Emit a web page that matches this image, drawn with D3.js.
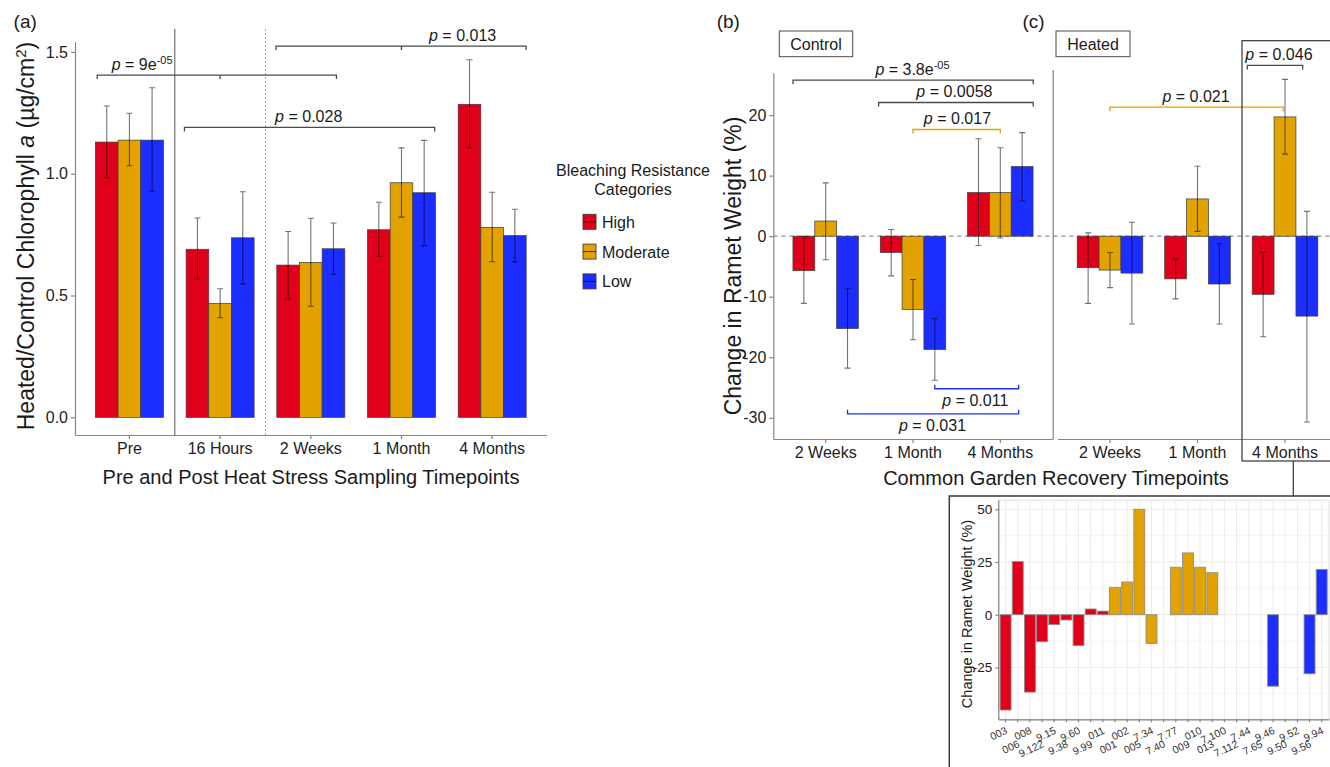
<!DOCTYPE html>
<html>
  <head>
    <meta charset="utf-8">
    <title>Chlorophyll a and ramet weight by bleaching resistance</title>
    <script src="https://cdn.jsdelivr.net/npm/d3@7"></script>
    <style>
      body { margin: 0; background: #fff; }
      svg { display: block; font-family: "Liberation Sans", Arial, sans-serif; }
      .axis path, .axis line { stroke: #858585; stroke-width: 1.2; }
      .axis text { fill: #222; font-size: 16px; font-family: "Liberation Sans", Arial, sans-serif; }
      .inset .axis text { font-size: 13.5px; }
    </style>
  </head>
  <body>
    <svg id="chart" width="1330" height="767"></svg>
    <script>
      // categories
      const levels = ["High", "Moderate", "Low"];
      const timeA = ["Pre", "16 Hours", "2 Weeks", "1 Month", "4 Months"];
      const timeB = ["2 Weeks", "1 Month", "4 Months"];

      // (a) heated/control chlorophyll a, mean and error bar ends
      const chlHigh = [1.13, 0.69, 0.625, 0.77, 1.285];
      const chlHighErr = [[0.984, 1.278], [0.568, 0.818], [0.486, 0.763], [0.661, 0.883], [1.106, 1.468]];
      const chlModerate = [1.138, 0.468, 0.636, 0.963, 0.78];
      const chlModerateErr = [[1.033, 1.248], [0.409, 0.528], [0.456, 0.817], [0.822, 1.106], [0.639, 0.924]];
      const chlLow = [1.138, 0.737, 0.692, 0.922, 0.746];
      const chlLowErr = [[0.928, 1.353], [0.548, 0.926], [0.587, 0.798], [0.705, 1.137], [0.638, 0.854]];

      // (b) control ramets, change in weight (%)
      const ctrlHigh = [-5.7, -2.7, 7.2];
      const ctrlHighErr = [[-11.1, -0.1], [-6.55, 1.1], [-1.55, 16.1]];
      const ctrlModerate = [2.5, -12.1, 7.2];
      const ctrlModerateErr = [[-3.9, 8.8], [-17.1, -7.15], [-0.3, 14.6]];
      const ctrlLow = [-15.25, -18.7, 11.5];
      const ctrlLowErr = [[-21.8, -8.6], [-23.8, -13.6], [5.8, 17.1]];

      // (c) heated ramets, change in weight (%)
      const heatHigh = [-5.2, -7.05, -9.6];
      const heatHighErr = [[-11.1, 0.55], [-10.35, -3.75], [-16.6, -2.65]];
      const heatModerate = [-5.6, 6.15, 19.7];
      const heatModerateErr = [[-8.5, -2.7], [0.8, 11.55], [13.55, 25.9]];
      const heatLow = [-6.1, -7.9, -13.2];
      const heatLowErr = [[-14.5, 2.3], [-14.5, -1.25], [-30.7, 4.1]];

      // inset: heated ramets at 4 months, per genotype
      const genotypes = ["003", "006", "008", "9.122", "9.15", "9.38", "9.60", "9.99", "011",
        "001", "002", "005", "7.34", "7.40", "7.77", "009", "010", "013", "7.100", "7.112", "7.44", "7.65",
        "9.46", "9.50", "9.52", "9.56", "9.94"];
      const genoChange = [-45.2, 25.2, -36.7, -12.8, -4.7, -2.5, -14.6, 2.7, 1.7,
        13.0, 15.5, 50.0, -13.6, null, 22.5, 29.3, 22.5, 19.9, null, null, null, null,
        -33.9, null, null, -28.0, 21.5];
      const genoLevel = genotypes.map(function(d, i) { return i < 9 ? "High" : i < 22 ? "Moderate" : "Low"; });

      // significance brackets, positions in category units and y units
      const sigA = [
        { from: -0.355, to: 2.283, mid: 1, y: 1.405, tx: 0.14, p: "9e", exp: "-05" },
        { from: 1.617, to: 4.374, mid: 3, y: 1.524, tx: 3.674, p: "0.013" },
        { from: 0.607, to: 3.366, y: 1.19, tx: 1.977, p: "0.028" }
      ];
      const sigB = [
        { from: -0.374, to: 2.377, y: 25.76, tx: 0.994, p: "3.8e", exp: "-05" },
        { from: 0.606, to: 2.377, y: 22.08, tx: 1.474, p: "0.0058" },
        { from: 1, to: 2, y: 17.62, tx: 1.509, p: "0.017", level: "Moderate" },
        { from: 1.25, to: 2.21, y: -25.2, tx: 1.714, p: "0.011", level: "Low", below: true },
        { from: 0.25, to: 2.21, y: -29.35, tx: 1.223, p: "0.031", level: "Low", below: true }
      ];
      const sigC = [
        { from: 0, to: 1.98, y: 21.3, tx: 0.983, p: "0.021", level: "Moderate" },
        { from: 1.569, to: 2.202, y: 28.2, tx: 1.931, p: "0.046" }
      ];

      const colour = { High: "#E1001B", Moderate: "#E2A300", Low: "#1C2DFF" };
      const ink = "#1a1a1a";

      const svg = d3.select("#chart");

      // position from fractional category index
      function pos(x, v) {
        return x(x.domain()[0]) + x.step() * (v + 0.5);
      }

      function groupedBars(g, x, y, series, errs) {
        const w = x.step() * 0.25;
        levels.forEach(function(lev, i) {
          g.selectAll(null)
            .data(x.domain())
            .join("rect")
              .attr("x", function(c) { return pos(x, x.domain().indexOf(c)) + (i - 1.5) * w; })
              .attr("y", function(c, j) { return y(Math.max(0, series[i][j])); })
              .attr("width", w)
              .attr("height", function(c, j) { return Math.abs(y(series[i][j]) - y(0)); })
              .attr("fill", colour[lev])
              .attr("stroke", "#3c3c3c")
              .attr("stroke-width", 0.7);
        });
        levels.forEach(function(lev, i) {
          g.selectAll(null)
            .data(errs[i])
            .join("path")
              .attr("d", function(e, j) {
                const cx = pos(x, j) + (i - 1) * w;
                return "M" + (cx - 3) + "," + y(e[1]) + "H" + (cx + 3) +
                  "M" + cx + "," + y(e[1]) + "V" + y(e[0]) +
                  "M" + (cx - 3) + "," + y(e[0]) + "H" + (cx + 3);
              })
              .attr("fill", "none")
              .attr("stroke", "rgba(0,0,0,0.55)")
              .attr("stroke-width", 1.1);
        });
      }

      function brackets(g, x, y, list) {
        list.forEach(function(b) {
          const x1 = pos(x, b.from), x2 = pos(x, b.to), yy = y(b.y);
          const t = b.below ? -4 : 4;
          const col = b.level ? colour[b.level] : "#4a4a4a";
          let d = "M" + x1 + "," + (yy + t) + "V" + yy + "H" + x2 + "V" + (yy + t);
          if (b.mid != null) d += "M" + pos(x, b.mid) + "," + yy + "v" + t;
          g.append("path")
            .attr("d", d)
            .attr("fill", "none")
            .attr("stroke", col)
            .attr("stroke-width", 1.3);
          const label = g.append("text")
            .attr("x", pos(x, b.tx))
            .attr("y", b.below ? yy + 17 : yy - 5)
            .attr("text-anchor", "middle")
            .attr("font-size", 16)
            .attr("fill", ink);
          label.append("tspan").attr("font-style", "italic").text("p");
          label.append("tspan").text(" = " + b.p);
          if (b.exp) label.append("tspan").attr("dy", -6).attr("font-size", 11).text(b.exp);
        });
      }

      function xAxis(g, x, yPos) {
        g.attr("class", "axis")
          .attr("transform", "translate(0," + yPos + ")")
          .call(d3.axisBottom(x).tickSizeInner(4).tickSizeOuter(0).tickPadding(4));
      }

      // ---------- panel (a) ----------
      const xa = d3.scaleBand().domain(timeA).range([75, 546.6]).paddingOuter(0.1);
      const ya = d3.scaleLinear().domain([-0.0725, 1.542]).range([435, 41.7]);
      const ga = svg.append("g");

      ga.append("g").attr("class", "axis")
        .attr("transform", "translate(75,0)")
        .call(d3.axisLeft(ya).tickValues([0, 0.5, 1, 1.5]).tickFormat(d3.format(".1f"))
          .tickSizeInner(4).tickSizeOuter(0).tickPadding(3));
      xAxis(ga.append("g"), xa, 435);

      // separators between pre, 16 hours and recovery
      ga.append("line")
        .attr("x1", pos(xa, 0.5)).attr("x2", pos(xa, 0.5))
        .attr("y1", 29).attr("y2", 435)
        .attr("stroke", "#707070").attr("stroke-width", 1.2);
      ga.append("line")
        .attr("x1", pos(xa, 1.5)).attr("x2", pos(xa, 1.5))
        .attr("y1", 29).attr("y2", 435)
        .attr("stroke", "#8a8a8a").attr("stroke-width", 0.8)
        .attr("stroke-dasharray", "2,2");

      groupedBars(ga, xa, ya, [chlHigh, chlModerate, chlLow], [chlHighErr, chlModerateErr, chlLowErr]);
      brackets(ga, xa, ya, sigA);

      const yTitleA = ga.append("text")
        .attr("transform", "translate(33.5,236) rotate(-90)")
        .attr("text-anchor", "middle")
        .attr("font-size", 23)
        .attr("fill", ink);
      yTitleA.append("tspan").text("Heated/Control Chlorophyll ");
      yTitleA.append("tspan").attr("font-style", "italic").text("a");
      yTitleA.append("tspan").text(" (µg/cm");
      yTitleA.append("tspan").attr("dy", -8).attr("font-size", 15).text("2");
      yTitleA.append("tspan").attr("dy", 8).text(")");

      ga.append("text")
        .attr("x", 311).attr("y", 484)
        .attr("text-anchor", "middle")
        .attr("font-size", 20)
        .attr("fill", ink)
        .text("Pre and Post Heat Stress Sampling Timepoints");

      // legend
      const legend = svg.append("g");
      legend.selectAll(null)
        .data(["Bleaching Resistance", "Categories"])
        .join("text")
          .attr("x", 633)
          .attr("y", function(d, i) { return 176 + i * 18.5; })
          .attr("text-anchor", "middle")
          .attr("font-size", 16)
          .attr("fill", ink)
          .text(function(d) { return d; });
      const keys = legend.selectAll(null)
        .data(levels)
        .join("g")
          .attr("transform", function(d, i) { return "translate(583," + (214.3 + i * 29.8) + ")"; });
      keys.append("rect")
        .attr("width", 13).attr("height", 15)
        .attr("fill", function(d) { return colour[d]; })
        .attr("stroke", "#3c3c3c").attr("stroke-width", 0.9);
      keys.append("line")
        .attr("x1", 0).attr("x2", 13).attr("y1", 7.5).attr("y2", 7.5)
        .attr("stroke", "rgba(0,0,0,0.7)").attr("stroke-width", 1);
      keys.append("text")
        .attr("x", 19).attr("y", 13.4)
        .attr("font-size", 16)
        .attr("fill", ink)
        .text(function(d) { return d; });

      // ---------- panels (b) and (c) ----------
      const yb = d3.scaleLinear().domain([-33.5, 27]).range([439, 72.7]);
      const xb = d3.scaleBand().domain(timeB).range([773.3, 1052.7]).paddingOuter(0.1);
      const xc = d3.scaleBand().domain(timeB).range([1057.5, 1337.5]).paddingOuter(0.1);
      const gb = svg.append("g");

      gb.append("g").attr("class", "axis")
        .attr("transform", "translate(773.3,0)")
        .call(d3.axisLeft(yb).tickValues([-30, -20, -10, 0, 10, 20]).tickFormat(function(d) { return String(d); })
          .tickSizeInner(4).tickSizeOuter(0).tickPadding(3));
      xAxis(gb.append("g"), xb, 439);
      xAxis(gb.append("g"), xc, 439);

      // facet borders
      gb.append("line")
        .attr("x1", 1053.2).attr("x2", 1053.2)
        .attr("y1", 70).attr("y2", 439)
        .attr("stroke", "#858585").attr("stroke-width", 1.2);

      // zero line
      gb.append("line")
        .attr("x1", 773.3).attr("x2", 1340)
        .attr("y1", yb(0)).attr("y2", yb(0))
        .attr("stroke", "#8a8a8a").attr("stroke-width", 1.3)
        .attr("stroke-dasharray", "4,4");

      groupedBars(gb, xb, yb, [ctrlHigh, ctrlModerate, ctrlLow], [ctrlHighErr, ctrlModerateErr, ctrlLowErr]);
      groupedBars(gb, xc, yb, [heatHigh, heatModerate, heatLow], [heatHighErr, heatModerateErr, heatLowErr]);
      brackets(gb, xb, yb, sigB);
      brackets(gb, xc, yb, sigC);

      // strip labels
      [["Control", 779.3, 73.4], ["Heated", 1056, 74]].forEach(function(s) {
        gb.append("rect")
          .attr("x", s[1]).attr("y", 31)
          .attr("width", s[2]).attr("height", 25.7)
          .attr("fill", "#fff")
          .attr("stroke", "#4a4a4a").attr("stroke-width", 1);
        gb.append("text")
          .attr("x", s[1] + s[2] / 2).attr("y", 49.5)
          .attr("text-anchor", "middle")
          .attr("font-size", 16)
          .attr("fill", ink)
          .text(s[0]);
      });

      gb.append("text")
        .attr("transform", "translate(741,266) rotate(-90)")
        .attr("text-anchor", "middle")
        .attr("font-size", 23)
        .attr("fill", ink)
        .text("Change in Ramet Weight (%)");
      gb.append("text")
        .attr("x", 1056).attr("y", 485)
        .attr("text-anchor", "middle")
        .attr("font-size", 20)
        .attr("fill", ink)
        .text("Common Garden Recovery Timepoints");

      // highlight of heated 4 months and connector to inset
      gb.append("rect")
        .attr("x", 1242).attr("y", 40.7)
        .attr("width", 110).attr("height", 420.3)
        .attr("fill", "none")
        .attr("stroke", "#333").attr("stroke-width", 1.2);
      gb.append("line")
        .attr("x1", 1293.3).attr("x2", 1293.3)
        .attr("y1", 461).attr("y2", 496)
        .attr("stroke", "#333").attr("stroke-width", 1.2);

      // panel letters
      svg.selectAll(".letter")
        .data([["(a)", 13.6], ["(b)", 716.7], ["(c)", 1022.5]])
        .join("text")
          .attr("class", "letter")
          .attr("x", function(d) { return d[1]; })
          .attr("y", 28)
          .attr("font-size", 19)
          .attr("fill", ink)
          .text(function(d) { return d[0]; });

      // ---------- inset ----------
      const gi = svg.append("g").attr("class", "inset");
      const xi = d3.scaleBand().domain(genotypes).range([998.3, 1329]).paddingOuter(0.1);
      const yi = d3.scaleLinear().domain([-49.6, 54.4]).range([719.3, 500]);

      gi.append("rect")
        .attr("x", 949.3).attr("y", 496)
        .attr("width", 400).attr("height", 300)
        .attr("fill", "#fff")
        .attr("stroke", "#3a3a3a").attr("stroke-width", 1.5);

      // grid
      gi.selectAll(null)
        .data([-37.5, -12.5, 12.5, 37.5])
        .join("line")
          .attr("x1", 998.3).attr("x2", 1329)
          .attr("y1", function(d) { return yi(d); }).attr("y2", function(d) { return yi(d); })
          .attr("stroke", "#f4f4f4").attr("stroke-width", 0.8);
      gi.selectAll(null)
        .data([-25, 0, 25, 50])
        .join("line")
          .attr("x1", 998.3).attr("x2", 1329)
          .attr("y1", function(d) { return yi(d); }).attr("y2", function(d) { return yi(d); })
          .attr("stroke", "#ebebeb").attr("stroke-width", 1);
      gi.selectAll(null)
        .data(genotypes)
        .join("line")
          .attr("x1", function(d) { return xi(d) + xi.bandwidth() / 2; })
          .attr("x2", function(d) { return xi(d) + xi.bandwidth() / 2; })
          .attr("y1", 500).attr("y2", 719.3)
          .attr("stroke", "#ebebeb").attr("stroke-width", 1);
      gi.append("rect")
        .attr("x", 998.3).attr("y", 500)
        .attr("width", 330.7).attr("height", 219.3)
        .attr("fill", "none")
        .attr("stroke", "#e0e0e0").attr("stroke-width", 1);

      gi.selectAll(null)
        .data(genotypes.filter(function(d, i) { return genoChange[i] != null; }))
        .join("rect")
          .attr("x", function(d) { return xi(d) + xi.bandwidth() * 0.05; })
          .attr("y", function(d) { return yi(Math.max(0, genoChange[genotypes.indexOf(d)])); })
          .attr("width", xi.bandwidth() * 0.9)
          .attr("height", function(d) { return Math.abs(yi(genoChange[genotypes.indexOf(d)]) - yi(0)); })
          .attr("fill", function(d) { return colour[genoLevel[genotypes.indexOf(d)]]; })
          .attr("stroke", "#8c8c8c").attr("stroke-width", 0.9);

      const yAxisI = gi.append("g").attr("class", "axis")
        .attr("transform", "translate(998.3,0)")
        .call(d3.axisLeft(yi).tickValues([-25, 0, 25, 50]).tickFormat(function(d) { return String(d); })
          .tickSizeInner(3).tickSizeOuter(0).tickPadding(3));
      yAxisI.select(".domain").attr("stroke", "#9a9a9a");
      const xAxisI = gi.append("g").attr("class", "axis")
        .attr("transform", "translate(0,719.3)")
        .call(d3.axisBottom(xi).tickSizeInner(3).tickSizeOuter(0).tickFormat(""));
      xAxisI.select(".domain").attr("stroke", "#9a9a9a");
      xAxisI.selectAll("line").attr("stroke", "#b0b0b0").attr("stroke-width", 0.8);

      // staggered rotated genotype labels
      gi.selectAll(".geno")
        .data(genotypes)
        .join("text")
          .attr("class", "geno")
          .attr("transform", function(d, i) {
            const cx = xi(d) + xi.bandwidth() / 2 + 2.5;
            return "translate(" + cx + "," + (i % 2 ? 746.5 : 733) + ") rotate(-25)";
          })
          .attr("text-anchor", "end")
          .attr("font-size", 10.5)
          .attr("fill", "#333")
          .text(function(d) { return d; });

      gi.append("text")
        .attr("transform", "translate(972,614) rotate(-90)")
        .attr("text-anchor", "middle")
        .attr("font-size", 14.5)
        .attr("fill", ink)
        .text("Change in Ramet Weight (%)");
    </script>
  </body>
</html>
